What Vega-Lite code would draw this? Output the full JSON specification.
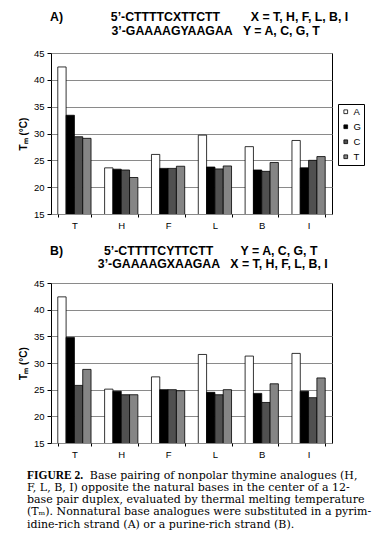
{
  "$schema": "https://vega.github.io/schema/vega-lite/v6.json",
  "background": "white",
  "padding": {"left": 17, "top": 10, "right": 0, "bottom": 0},
  "config": {
    "view": {"stroke": "black", "strokeWidth": 1},
    "font": "Liberation Sans",
    "axis": {"labelFont": "Liberation Sans", "labelFontSize": 9.5, "labelColor": "black", "tickColor": "black", "domainColor": "black", "titleColor": "black"},
    "legend": {"labelFont": "Liberation Sans"}
  },
  "datasets": {
    "a": [
      {"analogue": "T", "base": "A", "tm": 42.4}, {"analogue": "T", "base": "G", "tm": 33.4}, {"analogue": "T", "base": "C", "tm": 29.4}, {"analogue": "T", "base": "T", "tm": 29.1},
      {"analogue": "H", "base": "A", "tm": 23.6}, {"analogue": "H", "base": "G", "tm": 23.35}, {"analogue": "H", "base": "C", "tm": 23.2}, {"analogue": "H", "base": "T", "tm": 21.8},
      {"analogue": "F", "base": "A", "tm": 26.1}, {"analogue": "F", "base": "G", "tm": 23.5}, {"analogue": "F", "base": "C", "tm": 23.5}, {"analogue": "F", "base": "T", "tm": 23.9},
      {"analogue": "L", "base": "A", "tm": 29.7}, {"analogue": "L", "base": "G", "tm": 23.75}, {"analogue": "L", "base": "C", "tm": 23.4}, {"analogue": "L", "base": "T", "tm": 23.95},
      {"analogue": "B", "base": "A", "tm": 27.55}, {"analogue": "B", "base": "G", "tm": 23.2}, {"analogue": "B", "base": "C", "tm": 22.95}, {"analogue": "B", "base": "T", "tm": 24.6},
      {"analogue": "I", "base": "A", "tm": 28.7}, {"analogue": "I", "base": "G", "tm": 23.6}, {"analogue": "I", "base": "C", "tm": 25.0}, {"analogue": "I", "base": "T", "tm": 25.7}
    ],
    "b": [
      {"analogue": "T", "base": "A", "tm": 42.4}, {"analogue": "T", "base": "G", "tm": 34.8}, {"analogue": "T", "base": "C", "tm": 25.8}, {"analogue": "T", "base": "T", "tm": 28.8},
      {"analogue": "H", "base": "A", "tm": 25.1}, {"analogue": "H", "base": "G", "tm": 24.7}, {"analogue": "H", "base": "C", "tm": 24.05}, {"analogue": "H", "base": "T", "tm": 24.05},
      {"analogue": "F", "base": "A", "tm": 27.4}, {"analogue": "F", "base": "G", "tm": 25.0}, {"analogue": "F", "base": "C", "tm": 25.0}, {"analogue": "F", "base": "T", "tm": 24.8},
      {"analogue": "L", "base": "A", "tm": 31.6}, {"analogue": "L", "base": "G", "tm": 24.5}, {"analogue": "L", "base": "C", "tm": 24.05}, {"analogue": "L", "base": "T", "tm": 25.0},
      {"analogue": "B", "base": "A", "tm": 31.3}, {"analogue": "B", "base": "G", "tm": 24.3}, {"analogue": "B", "base": "C", "tm": 22.6}, {"analogue": "B", "base": "T", "tm": 26.1},
      {"analogue": "I", "base": "A", "tm": 31.8}, {"analogue": "I", "base": "G", "tm": 24.7}, {"analogue": "I", "base": "C", "tm": 23.5}, {"analogue": "I", "base": "T", "tm": 27.2}
    ]
  },
  "spacing": 14,
  "title": {
    "text": "FIGURE 2.",
    "subtitle": [
      "\u200b\u00a0\u00a0\u00a0\u00a0\u00a0\u00a0\u00a0\u00a0\u00a0\u00a0\u00a0\u00a0\u00a0\u00a0\u00a0\u00a0\u00a0\u00a0Base pairing of nonpolar thymine analogues (H,",
      "F, L, B, I) opposite the natural bases in the center of a 12-",
      "base pair duplex, evaluated by thermal melting temperature",
      "(Tₘ). Nonnatural base analogues were substituted in a pyrim-",
      "idine-rich strand (A) or a purine-rich strand (B)."
    ],
    "orient": "bottom",
    "anchor": "start",
    "font": "Liberation Serif",
    "fontSize": 11.5,
    "fontWeight": "bold",
    "color": "black",
    "subtitleFont": "DejaVu Serif",
    "subtitleFontSize": 11,
    "subtitleColor": "black",
    "subtitleLineHeight": 12.3,
    "subtitlePadding": -12,
    "offset": 11,
    "dx": 9
  },
  "vconcat": [
    {
      "data": {"name": "a"},
      "width": 281,
      "height": 161,
      "title": {
        "text": [
          "A)\u00a0\u00a0\u00a0\u00a0\u00a0\u00a0\u00a0\u00a0\u00a0\u00a0\u00a0\u00a0\u00a0\u00a05’-CTTTTCXTTCTT\u00a0\u00a0\u00a0\u00a0\u00a0\u00a0\u00a0\u00a0\u00a0X = T, H, F, L, B, I",
          "\u200b\u00a0\u00a0\u00a0\u00a0\u00a0\u00a0\u00a0\u00a0\u00a0\u00a0\u00a0\u00a0\u00a0\u00a0\u00a0\u00a0\u00a0\u00a03’-GAAAAGYAAGAA\u00a0\u00a0\u00a0Y = A, C, G, T"
        ],
        "anchor": "start", "frame": "group", "font": "Liberation Sans", "fontSize": 12.3, "fontWeight": "bold", "color": "black", "lineHeight": 13.5, "offset": 11, "dx": -1
      },
      "mark": {"type": "bar", "stroke": "black", "strokeWidth": 0.8, "clip": true},
      "encoding": {
        "x": {"field": "analogue", "type": "nominal", "sort": ["T", "H", "F", "L", "B", "I"],
          "scale": {"paddingInner": 0.29, "paddingOuter": 0.145},
          "axis": {"title": null, "labelAngle": 0, "tickBand": "extent", "tickSize": 3, "labelPadding": 3, "domain": false}},
        "xOffset": {"field": "base", "type": "nominal", "sort": ["A", "G", "C", "T"]},
        "y": {"field": "tm", "type": "quantitative", "scale": {"domain": [15, 45], "nice": false, "zero": false},
          "axis": {"title": "Tₘ (°C)", "titleFontSize": 10, "titleFontWeight": "bold", "titlePadding": 5, "values": [15, 20, 25, 30, 35, 40, 45], "grid": true, "gridColor": "#8a8a8a", "tickSize": 4, "labelPadding": 3, "domain": false}},
        "color": {"field": "base", "type": "nominal",
          "scale": {"domain": ["A", "G", "C", "T"], "range": ["white", "black", "#505050", "#858585"]},
          "legend": {"title": null, "orient": "none", "legendX": 287, "legendY": 51, "strokeColor": "black", "padding": 3, "symbolType": "square", "symbolSize": 14, "symbolStrokeColor": "black", "symbolStrokeWidth": 0.8, "labelFontSize": 9.5, "labelColor": "black", "rowPadding": 4, "labelOffset": 3}}
      }
    },
    {
      "data": {"name": "b"},
      "width": 281,
      "height": 160,
      "title": {
        "text": [
          "B)\u00a0\u00a0\u00a0\u00a0\u00a0\u00a0\u00a0\u00a0\u00a0\u00a0\u00a0\u00a05’-CTTTTCYTTCTT\u00a0\u00a0\u00a0\u00a0\u00a0\u00a0\u00a0\u00a0Y = A, C, G, T",
          "\u200b\u00a0\u00a0\u00a0\u00a0\u00a0\u00a0\u00a0\u00a0\u00a0\u00a0\u00a0\u00a0\u00a0\u00a03’-GAAAAGXAAGAA\u00a0\u00a0\u00a0X = T, H, F, L, B, I"
        ],
        "anchor": "start", "frame": "group", "font": "Liberation Sans", "fontSize": 12.3, "fontWeight": "bold", "color": "black", "lineHeight": 12.5, "offset": 8, "dx": -1
      },
      "mark": {"type": "bar", "stroke": "black", "strokeWidth": 0.8, "clip": true},
      "encoding": {
        "x": {"field": "analogue", "type": "nominal", "sort": ["T", "H", "F", "L", "B", "I"],
          "scale": {"paddingInner": 0.29, "paddingOuter": 0.145},
          "axis": {"title": null, "labelAngle": 0, "tickBand": "extent", "tickSize": 3, "labelPadding": 3, "domain": false}},
        "xOffset": {"field": "base", "type": "nominal", "sort": ["A", "G", "C", "T"]},
        "y": {"field": "tm", "type": "quantitative", "scale": {"domain": [15, 45], "nice": false, "zero": false},
          "axis": {"title": "Tₘ (°C)", "titleFontSize": 10, "titleFontWeight": "bold", "titlePadding": 5, "values": [15, 20, 25, 30, 35, 40, 45], "grid": true, "gridColor": "#8a8a8a", "tickSize": 4, "labelPadding": 3, "domain": false}},
        "color": {"field": "base", "type": "nominal",
          "scale": {"domain": ["A", "G", "C", "T"], "range": ["white", "black", "#505050", "#858585"]},
          "legend": {"title": null, "orient": "none", "legendX": 287, "legendY": 52, "strokeColor": "black", "padding": 3, "symbolType": "square", "symbolSize": 14, "symbolStrokeColor": "black", "symbolStrokeWidth": 0.8, "labelFontSize": 9.5, "labelColor": "black", "rowPadding": 4, "labelOffset": 3}}
      }
    }
  ]
}
